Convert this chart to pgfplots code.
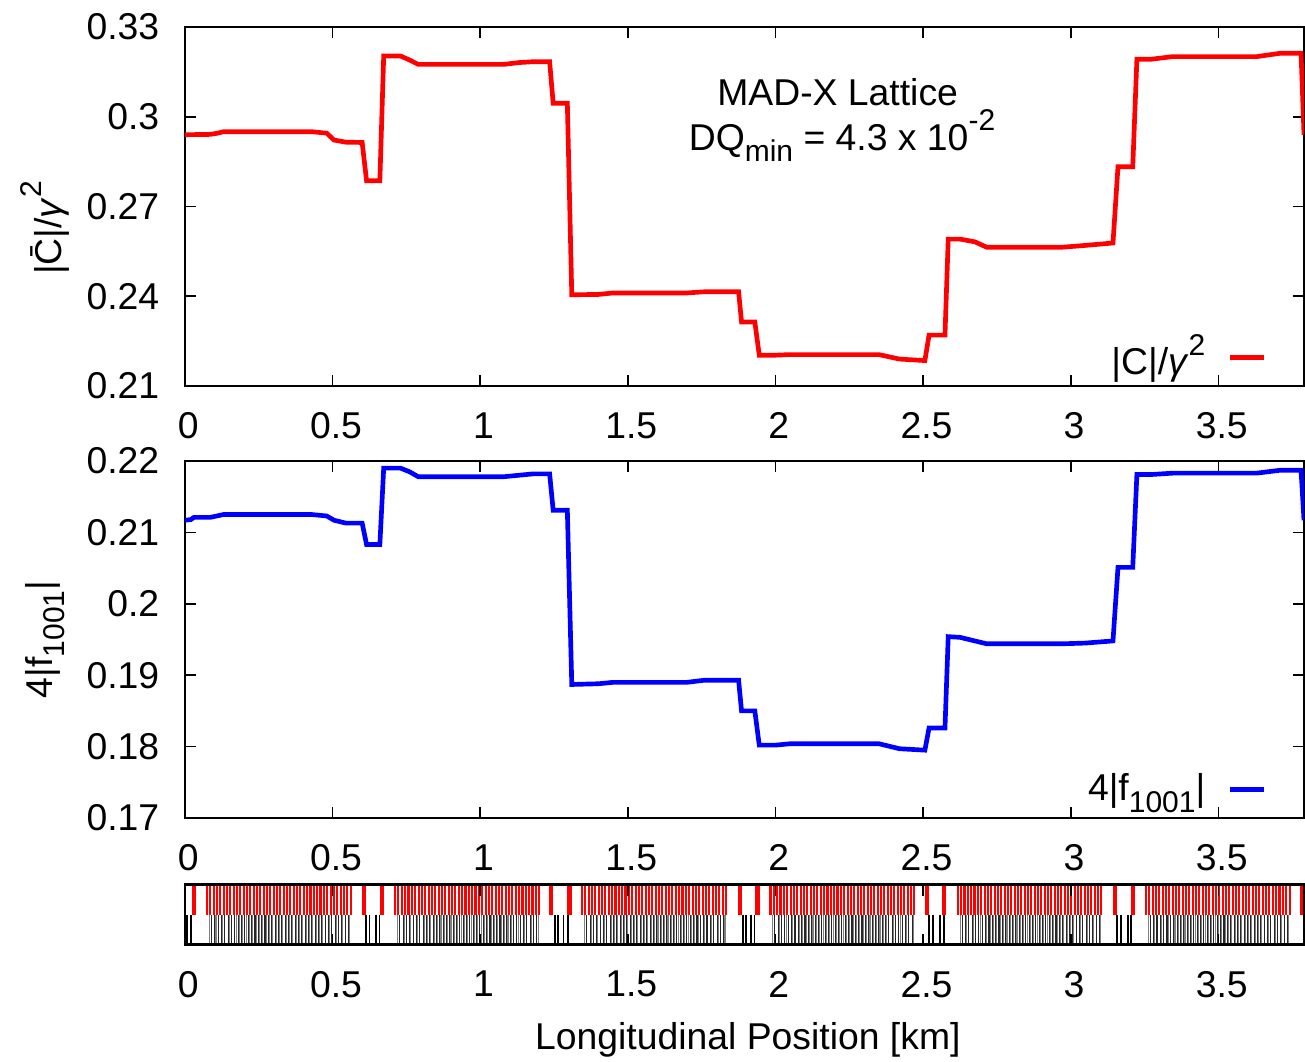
\documentclass[border=0pt]{standalone}
\usepackage{pgfplots}
\pgfplotsset{compat=1.18}
\usepackage{fontspec}
\setmainfont{Liberation Sans}

% gnuplot-like sub/superscripts
\newcommand{\sub}[1]{\raisebox{-0.32em}{\fontsize{9}{9}\selectfont #1}}
\newcommand{\sups}[1]{\raisebox{0.52em}{\fontsize{9}{9}\selectfont #1}}

\definecolor{cred}{rgb}{1,0,0}
\definecolor{cblue}{rgb}{0,0,1}

\pgfplotsset{
  ringaxis/.style={
    scale only axis,
    width=335.7pt,
    xmin=0, xmax=3.79,
    xtick={0,0.5,1,1.5,2,2.5,3,3.5},
    xticklabels={0,0.5,1,1.5,2,2.5,3,3.5},
    /pgf/number format/assume math mode=true,
    tick align=inside,
    major tick length=3.3pt,
    every tick/.style={black, line width=0.5pt},
    axis line style={line width=0.75pt},
    xticklabel style={yshift=-4.1pt, xshift=1pt},
    yticklabel style={xshift=-3.8pt},
    minor tick num=0,
  },
  legendright/.style={
    legend plot pos=right,
    legend style={draw=none, fill=none, inner sep=0pt, outer sep=0pt,
      column sep=6.6pt, nodes={inner sep=0pt}},
    legend image code/.code={\draw[##1] (0pt,0pt) -- (10.2pt,0pt);},
  },
}

\begin{document}
\fontsize{11.2}{13.4}\selectfont
\begin{tikzpicture}
\useasboundingbox (-55.5pt,8.1pt) rectangle (336pt,-310.5pt);

% ---------------- coupling coefficient |C|/gamma^2 ----------------
\begin{axis}[ringaxis, legendright,
  at={(0pt,0pt)}, anchor=north west,
  height=107.7pt,
  ymin=0.21, ymax=0.33,
  ytick={0.21,0.24,0.27,0.3,0.33},
  yticklabels={0.21,0.24,0.27,0.3,0.33},
  ylabel={|\={C}|/\textit{γ}\sups{2}},
  every axis y label/.style={at={(axis description cs:-0.125,0.44)}, rotate=90, anchor=center},
  legend style={at={(0.966,0.08)}, anchor=east},
]
\addplot[cred, line width=1.4pt] coordinates {
  (0.000,0.2940) (0.085,0.2941) (0.110,0.2945) (0.130,0.2950) (0.430,0.2950)
  (0.480,0.2945) (0.505,0.2922) (0.545,0.2915) (0.600,0.2914) (0.615,0.2786)
  (0.660,0.2786) (0.673,0.3203) (0.730,0.3203) (0.760,0.3190) (0.790,0.3175)
  (1.080,0.3175) (1.130,0.3181) (1.180,0.3184) (1.235,0.3184) (1.247,0.3045)
  (1.295,0.3045) (1.310,0.2405) (1.400,0.2406) (1.450,0.2411) (1.700,0.2411)
  (1.760,0.2415) (1.875,0.2415) (1.885,0.2314) (1.930,0.2314) (1.945,0.2203)
  (2.000,0.2203) (2.050,0.2205) (2.350,0.2205) (2.420,0.2190) (2.506,0.2185)
  (2.520,0.2270) (2.574,0.2270) (2.585,0.2591) (2.625,0.2591) (2.675,0.2582)
  (2.715,0.2564) (2.973,0.2564) (3.050,0.2570) (3.143,0.2578) (3.160,0.2833)
  (3.210,0.2833) (3.224,0.3192) (3.270,0.3192) (3.346,0.3201) (3.630,0.3201)
  (3.708,0.3212) (3.780,0.3212) (3.790,0.2940)
};
\addlegendentry{|C|/\textit{γ}\sups{2}}
\end{axis}

% ---------------- resonance driving term 4|f1001| ----------------
\begin{axis}[ringaxis, legendright,
  at={(0pt,-130.2pt)}, anchor=north west,
  height=107.1pt,
  ymin=0.17, ymax=0.22,
  ytick={0.17,0.18,0.19,0.2,0.21,0.22},
  yticklabels={0.17,0.18,0.19,0.2,0.21,0.22},
  ylabel={4|f\sub{1001}|},
  every axis y label/.style={at={(axis description cs:-0.125,0.5)}, rotate=90, anchor=center},
  legend style={at={(0.966,0.08)}, anchor=east},
]
\addplot[cblue, line width=1.4pt] coordinates {
  (0.000,0.2117) (0.020,0.2118) (0.030,0.2121) (0.085,0.2121) (0.130,0.2125)
  (0.430,0.2125) (0.480,0.2123) (0.505,0.2117) (0.545,0.2113) (0.600,0.2113)
  (0.615,0.2083) (0.660,0.2083) (0.673,0.2190) (0.730,0.2190) (0.760,0.2185)
  (0.790,0.2178) (1.080,0.2178) (1.180,0.2182) (1.235,0.2182) (1.247,0.2131)
  (1.295,0.2131) (1.310,0.1887) (1.400,0.1888) (1.450,0.1890) (1.700,0.1890)
  (1.760,0.1893) (1.875,0.1893) (1.885,0.1850) (1.930,0.1850) (1.945,0.1802)
  (2.000,0.1802) (2.050,0.1804) (2.350,0.1804) (2.420,0.1797) (2.506,0.1795)
  (2.520,0.1826) (2.574,0.1826) (2.585,0.1954) (2.625,0.1953) (2.675,0.1948)
  (2.715,0.1944) (2.973,0.1944) (3.050,0.1945) (3.143,0.1948) (3.160,0.2051)
  (3.210,0.2051) (3.224,0.2181) (3.270,0.2181) (3.346,0.2183) (3.630,0.2183)
  (3.708,0.2187) (3.780,0.2187) (3.790,0.2117)
};
\addlegendentry{4|f\sub{1001}|}
\end{axis}

% ---------------- lattice layout: dipoles (top), quadrupoles (bottom) ----------------
\begin{axis}[ringaxis,
  at={(0pt,-257.25pt)}, anchor=north west,
  height=18pt,
  ymin=-1, ymax=1,
  ytick=\empty,
  axis on top,
  xlabel={Longitudinal Position [km]},
  every axis x label/.style={at={(axis description cs:0.503,0)}, yshift=-28.65pt, anchor=center},
]
% arc dipoles
\addplot[cred, line width=0.62pt, ycomb] coordinates {
 (0.074,1)(0.085,1)(0.097,1)(0.108,1)(0.119,1)(0.131,1)(0.142,1)(0.153,1)(0.165,1)(0.176,1)(0.187,1)
 (0.199,1)(0.210,1)(0.221,1)(0.233,1)(0.244,1)(0.255,1)(0.267,1)(0.278,1)(0.289,1)(0.301,1)(0.312,1)
 (0.323,1)(0.335,1)(0.346,1)(0.357,1)(0.369,1)(0.380,1)(0.391,1)(0.403,1)(0.414,1)(0.425,1)(0.437,1)
 (0.448,1)(0.459,1)(0.471,1)(0.482,1)(0.493,1)(0.505,1)(0.516,1)(0.527,1)(0.539,1)(0.550,1)(0.561,1)
 (0.712,1)(0.723,1)(0.735,1)(0.746,1)(0.757,1)(0.769,1)(0.780,1)(0.791,1)(0.803,1)(0.814,1)(0.825,1)
 (0.837,1)(0.848,1)(0.859,1)(0.871,1)(0.882,1)(0.893,1)(0.905,1)(0.916,1)(0.927,1)(0.939,1)(0.950,1)
 (0.961,1)(0.973,1)(0.984,1)(0.995,1)(1.007,1)(1.018,1)(1.029,1)(1.041,1)(1.052,1)(1.063,1)(1.075,1)
 (1.086,1)(1.097,1)(1.109,1)(1.120,1)(1.131,1)(1.143,1)(1.154,1)(1.165,1)(1.177,1)(1.188,1)(1.199,1)
 (1.345,1)(1.356,1)(1.368,1)(1.379,1)(1.390,1)(1.402,1)(1.413,1)(1.424,1)(1.436,1)(1.447,1)(1.458,1)
 (1.470,1)(1.481,1)(1.492,1)(1.504,1)(1.515,1)(1.526,1)(1.538,1)(1.549,1)(1.560,1)(1.572,1)(1.583,1)
 (1.594,1)(1.606,1)(1.617,1)(1.628,1)(1.640,1)(1.651,1)(1.662,1)(1.674,1)(1.685,1)(1.696,1)(1.708,1)
 (1.719,1)(1.730,1)(1.742,1)(1.753,1)(1.764,1)(1.776,1)(1.787,1)(1.798,1)(1.810,1)(1.821,1)(1.832,1)
 (1.983,1)(1.994,1)(2.006,1)(2.017,1)(2.028,1)(2.040,1)(2.051,1)(2.062,1)(2.074,1)(2.085,1)(2.096,1)
 (2.108,1)(2.119,1)(2.130,1)(2.142,1)(2.153,1)(2.164,1)(2.176,1)(2.187,1)(2.198,1)(2.210,1)(2.221,1)
 (2.232,1)(2.244,1)(2.255,1)(2.266,1)(2.278,1)(2.289,1)(2.300,1)(2.312,1)(2.323,1)(2.334,1)(2.346,1)
 (2.357,1)(2.368,1)(2.380,1)(2.391,1)(2.402,1)(2.414,1)(2.425,1)(2.436,1)(2.448,1)(2.459,1)(2.470,1)
 (2.617,1)(2.628,1)(2.640,1)(2.651,1)(2.662,1)(2.674,1)(2.685,1)(2.696,1)(2.708,1)(2.719,1)(2.730,1)
 (2.742,1)(2.753,1)(2.764,1)(2.776,1)(2.787,1)(2.798,1)(2.810,1)(2.821,1)(2.832,1)(2.844,1)(2.855,1)
 (2.866,1)(2.878,1)(2.889,1)(2.900,1)(2.912,1)(2.923,1)(2.934,1)(2.946,1)(2.957,1)(2.968,1)(2.980,1)
 (2.991,1)(3.002,1)(3.014,1)(3.025,1)(3.036,1)(3.048,1)(3.059,1)(3.070,1)(3.082,1)(3.093,1)(3.104,1)
 (3.254,1)(3.265,1)(3.277,1)(3.288,1)(3.299,1)(3.311,1)(3.322,1)(3.333,1)(3.345,1)(3.356,1)(3.367,1)
 (3.379,1)(3.390,1)(3.401,1)(3.413,1)(3.424,1)(3.435,1)(3.447,1)(3.458,1)(3.469,1)(3.481,1)(3.492,1)
 (3.503,1)(3.515,1)(3.526,1)(3.537,1)(3.549,1)(3.560,1)(3.571,1)(3.583,1)(3.594,1)(3.605,1)(3.617,1)
 (3.628,1)(3.639,1)(3.651,1)(3.662,1)(3.673,1)(3.685,1)(3.696,1)(3.707,1)(3.719,1)(3.730,1)(3.741,1)
};
% insertion dipoles (DX/D0)
\addplot[cred, line width=1.3pt, ycomb] coordinates {
 (0.031,1)(0.607,1)(0.667,1)(1.240,1)(1.302,1)(1.880,1)(1.939,1)
 (2.513,1)(2.571,1)(3.150,1)(3.211,1)(3.785,1)
};
% arc quadrupoles
\addplot[black!85, line width=0.32pt, ycomb] coordinates {
 (0.089,-1)(0.101,-1)(0.112,-1)(0.123,-1)(0.135,-1)(0.146,-1)(0.157,-1)(0.169,-1)(0.180,-1)(0.191,-1)
 (0.203,-1)(0.214,-1)(0.225,-1)(0.237,-1)(0.248,-1)(0.259,-1)(0.271,-1)(0.282,-1)(0.293,-1)(0.305,-1)
 (0.316,-1)(0.327,-1)(0.339,-1)(0.350,-1)(0.361,-1)(0.373,-1)(0.384,-1)(0.395,-1)(0.407,-1)(0.418,-1)
 (0.429,-1)(0.441,-1)(0.452,-1)(0.463,-1)(0.475,-1)(0.486,-1)(0.497,-1)(0.509,-1)(0.520,-1)(0.531,-1)
 (0.543,-1)(0.554,-1)
 (0.727,-1)(0.739,-1)(0.750,-1)(0.761,-1)(0.773,-1)(0.784,-1)(0.795,-1)(0.807,-1)(0.818,-1)(0.829,-1)
 (0.841,-1)(0.852,-1)(0.863,-1)(0.875,-1)(0.886,-1)(0.897,-1)(0.909,-1)(0.920,-1)(0.931,-1)(0.943,-1)
 (0.954,-1)(0.965,-1)(0.977,-1)(0.988,-1)(0.999,-1)(1.011,-1)(1.022,-1)(1.033,-1)(1.045,-1)(1.056,-1)
 (1.067,-1)(1.079,-1)(1.090,-1)(1.101,-1)(1.113,-1)(1.124,-1)(1.135,-1)(1.147,-1)(1.158,-1)(1.169,-1)
 (1.181,-1)(1.192,-1)
 (1.360,-1)(1.372,-1)(1.383,-1)(1.394,-1)(1.406,-1)(1.417,-1)(1.428,-1)(1.440,-1)(1.451,-1)(1.462,-1)
 (1.474,-1)(1.485,-1)(1.496,-1)(1.508,-1)(1.519,-1)(1.530,-1)(1.542,-1)(1.553,-1)(1.564,-1)(1.576,-1)
 (1.587,-1)(1.598,-1)(1.610,-1)(1.621,-1)(1.632,-1)(1.644,-1)(1.655,-1)(1.666,-1)(1.678,-1)(1.689,-1)
 (1.700,-1)(1.712,-1)(1.723,-1)(1.734,-1)(1.746,-1)(1.757,-1)(1.768,-1)(1.780,-1)(1.791,-1)(1.802,-1)
 (1.814,-1)(1.825,-1)
 (1.998,-1)(2.010,-1)(2.021,-1)(2.032,-1)(2.044,-1)(2.055,-1)(2.066,-1)(2.078,-1)(2.089,-1)(2.100,-1)
 (2.112,-1)(2.123,-1)(2.134,-1)(2.146,-1)(2.157,-1)(2.168,-1)(2.180,-1)(2.191,-1)(2.202,-1)(2.214,-1)
 (2.225,-1)(2.236,-1)(2.248,-1)(2.259,-1)(2.270,-1)(2.282,-1)(2.293,-1)(2.304,-1)(2.316,-1)(2.327,-1)
 (2.338,-1)(2.350,-1)(2.361,-1)(2.372,-1)(2.384,-1)(2.395,-1)(2.406,-1)(2.418,-1)(2.429,-1)(2.440,-1)
 (2.452,-1)(2.463,-1)
 (2.632,-1)(2.644,-1)(2.655,-1)(2.666,-1)(2.678,-1)(2.689,-1)(2.700,-1)(2.712,-1)(2.723,-1)(2.734,-1)
 (2.746,-1)(2.757,-1)(2.768,-1)(2.780,-1)(2.791,-1)(2.802,-1)(2.814,-1)(2.825,-1)(2.836,-1)(2.848,-1)
 (2.859,-1)(2.870,-1)(2.882,-1)(2.893,-1)(2.904,-1)(2.916,-1)(2.927,-1)(2.938,-1)(2.950,-1)(2.961,-1)
 (2.972,-1)(2.984,-1)(2.995,-1)(3.006,-1)(3.018,-1)(3.029,-1)(3.040,-1)(3.052,-1)(3.063,-1)(3.074,-1)
 (3.086,-1)(3.097,-1)
 (3.269,-1)(3.281,-1)(3.292,-1)(3.303,-1)(3.315,-1)(3.326,-1)(3.337,-1)(3.349,-1)(3.360,-1)(3.371,-1)
 (3.383,-1)(3.394,-1)(3.405,-1)(3.417,-1)(3.428,-1)(3.439,-1)(3.451,-1)(3.462,-1)(3.473,-1)(3.485,-1)
 (3.496,-1)(3.507,-1)(3.519,-1)(3.530,-1)(3.541,-1)(3.553,-1)(3.564,-1)(3.575,-1)(3.587,-1)(3.598,-1)
 (3.609,-1)(3.621,-1)(3.632,-1)(3.643,-1)(3.655,-1)(3.666,-1)(3.677,-1)(3.689,-1)(3.700,-1)(3.711,-1)
 (3.723,-1)(3.734,-1)
};
% arc sextupoles and correctors
\addplot[black!50, line width=0.32pt, ycomb] coordinates {
 (0.082,-1)(0.105,-1)(0.127,-1)(0.150,-1)(0.173,-1)(0.184,-1)(0.195,-1)(0.207,-1)(0.218,-1)(0.229,-1)
 (0.241,-1)(0.252,-1)(0.263,-1)(0.275,-1)(0.286,-1)(0.297,-1)(0.309,-1)(0.320,-1)(0.331,-1)(0.343,-1)
 (0.354,-1)(0.365,-1)(0.377,-1)(0.388,-1)(0.399,-1)(0.411,-1)(0.422,-1)(0.433,-1)(0.445,-1)(0.456,-1)
 (0.467,-1)(0.490,-1)(0.513,-1)(0.535,-1)(0.558,-1)
 (0.720,-1)(0.743,-1)(0.765,-1)(0.788,-1)(0.811,-1)(0.822,-1)(0.833,-1)(0.845,-1)(0.856,-1)(0.867,-1)
 (0.879,-1)(0.890,-1)(0.901,-1)(0.913,-1)(0.924,-1)(0.935,-1)(0.947,-1)(0.958,-1)(0.969,-1)(0.981,-1)
 (0.992,-1)(1.003,-1)(1.015,-1)(1.026,-1)(1.037,-1)(1.049,-1)(1.060,-1)(1.071,-1)(1.083,-1)(1.094,-1)
 (1.105,-1)(1.128,-1)(1.151,-1)(1.173,-1)(1.196,-1)
 (1.353,-1)(1.376,-1)(1.398,-1)(1.421,-1)(1.444,-1)(1.455,-1)(1.466,-1)(1.478,-1)(1.489,-1)(1.500,-1)
 (1.512,-1)(1.523,-1)(1.534,-1)(1.546,-1)(1.557,-1)(1.568,-1)(1.580,-1)(1.591,-1)(1.602,-1)(1.614,-1)
 (1.625,-1)(1.636,-1)(1.648,-1)(1.659,-1)(1.670,-1)(1.682,-1)(1.693,-1)(1.704,-1)(1.716,-1)(1.727,-1)
 (1.738,-1)(1.761,-1)(1.784,-1)(1.806,-1)(1.829,-1)
 (1.991,-1)(2.014,-1)(2.036,-1)(2.059,-1)(2.082,-1)(2.093,-1)(2.104,-1)(2.116,-1)(2.127,-1)(2.138,-1)
 (2.150,-1)(2.161,-1)(2.172,-1)(2.184,-1)(2.195,-1)(2.206,-1)(2.218,-1)(2.229,-1)(2.240,-1)(2.252,-1)
 (2.263,-1)(2.274,-1)(2.286,-1)(2.297,-1)(2.308,-1)(2.320,-1)(2.331,-1)(2.342,-1)(2.354,-1)(2.365,-1)
 (2.376,-1)(2.399,-1)(2.422,-1)(2.444,-1)(2.467,-1)
 (2.625,-1)(2.648,-1)(2.670,-1)(2.693,-1)(2.716,-1)(2.727,-1)(2.738,-1)(2.750,-1)(2.761,-1)(2.772,-1)
 (2.784,-1)(2.795,-1)(2.806,-1)(2.818,-1)(2.829,-1)(2.840,-1)(2.852,-1)(2.863,-1)(2.874,-1)(2.886,-1)
 (2.897,-1)(2.908,-1)(2.920,-1)(2.931,-1)(2.942,-1)(2.954,-1)(2.965,-1)(2.976,-1)(2.988,-1)(2.999,-1)
 (3.010,-1)(3.033,-1)(3.056,-1)(3.078,-1)(3.101,-1)
 (3.262,-1)(3.285,-1)(3.307,-1)(3.330,-1)(3.353,-1)(3.364,-1)(3.375,-1)(3.387,-1)(3.398,-1)(3.409,-1)
 (3.421,-1)(3.432,-1)(3.443,-1)(3.455,-1)(3.466,-1)(3.477,-1)(3.489,-1)(3.500,-1)(3.511,-1)(3.523,-1)
 (3.534,-1)(3.545,-1)(3.557,-1)(3.568,-1)(3.579,-1)(3.591,-1)(3.602,-1)(3.613,-1)(3.625,-1)(3.636,-1)
 (3.647,-1)(3.670,-1)(3.693,-1)(3.715,-1)(3.738,-1)
};
% insertion triplet quadrupoles
\addplot[black, line width=0.55pt, ycomb] coordinates {
 (0.007,-1)(0.020,-1)(0.614,-1)(0.625,-1)(0.648,-1)(0.659,-1)
 (1.252,-1)(1.263,-1)(1.282,-1)(1.296,-1)(1.889,-1)(1.900,-1)(1.918,-1)(1.929,-1)
 (2.520,-1)(2.533,-1)(2.557,-1)(2.570,-1)(3.157,-1)(3.171,-1)(3.194,-1)(3.205,-1)
};
\end{axis}

% annotation
\node[anchor=base] at (195.8pt,-23.4pt) {MAD-X Lattice};
\node[anchor=base] at (197.1pt,-36.9pt) {DQ\sub{min} = 4.3 x 10\sups{-2}};
\end{tikzpicture}
\end{document}
